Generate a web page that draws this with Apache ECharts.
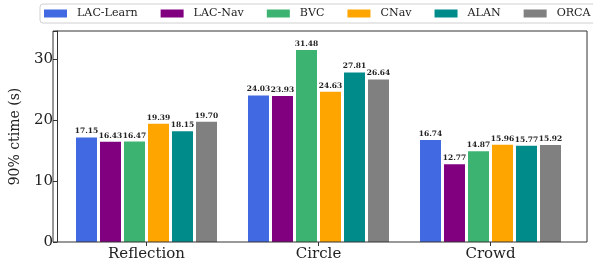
<!DOCTYPE html>
<html><head><meta charset="utf-8">
<script src="https://cdn.jsdelivr.net/npm/echarts@6/dist/echarts.min.js"></script>
<style>html,body{margin:0;padding:0;background:#fff}#c{width:593px;height:266px}</style>
</head><body><div id="c"></div>
<script>
const categories = ['Reflection', 'Circle', 'Crowd'];
const seriesNames = ['LAC-Learn', 'LAC-Nav', 'BVC', 'CNav', 'ALAN', 'ORCA'];
const lacLearn = [17.15, 24.03, 16.74];
const lacNav = [16.43, 23.93, 12.77];
const bvc = [16.47, 31.48, 14.87];
const cnav = [19.39, 24.63, 15.96];
const alan = [18.15, 27.81, 15.77];
const orca = [19.70, 26.64, 15.92];
const yTicks = [0, 10, 20, 30];
const yMax = 34.6;

const colors = ['#4169E1', '#800080', '#3CB371', '#FFA500', '#008B8B', '#808080'];
const allData = [lacLearn, lacNav, bvc, cnav, alan, orca];
const font = 'DejaVu Serif';

const chart = echarts.init(document.getElementById('c'), null, {renderer: 'canvas'});
chart.setOption({
  animation: false,
  backgroundColor: '#fff',
  textStyle: {fontFamily: font},
  legend: {
    data: seriesNames,
    left: 40, top: 4, width: 600,
    itemWidth: 23, itemHeight: 8, itemGap: 23,
    padding: [4, 8, 4, 4],
    borderColor: '#d0d0d0', borderWidth: 1, borderRadius: 3,
    textStyle: {fontFamily: font, fontSize: 11.1, color: '#222', padding: [0, 0, 0, 5]},
    icon: 'rect'
  },
  grid: [
    {left: 53, right: 6, top: 31, bottom: 24},
    {left: 60.5, width: 516, top: 31, bottom: 24}
  ],
  xAxis: [
    {type: 'value', gridIndex: 0, min: 0, max: 1, show: true,
     axisLine: {show: false}, axisTick: {show: false}, axisLabel: {show: false}, splitLine: {show: false}},
    {type: 'category', gridIndex: 1, data: categories,
     axisLine: {show: false},
     axisTick: {show: true, alignWithLabel: true, length: 4, lineStyle: {color: '#333'}},
     axisLabel: {fontFamily: font, fontSize: 15, color: '#222', margin: 5}}
  ],
  yAxis: [
    {type: 'value', gridIndex: 0, min: 0, max: yMax, interval: 10,
     name: '90% ctime (s)', nameLocation: 'middle', nameGap: 35, nameMoveOverlap: false,
     nameTextStyle: {fontFamily: font, fontSize: 14, color: '#222'},
     axisLine: {show: true, lineStyle: {color: '#333'}},
     axisTick: {show: true, length: 4, lineStyle: {color: '#333'}},
     axisLabel: {fontFamily: font, fontSize: 15, color: '#222', margin: 4,
       formatter: v => yTicks.includes(v) ? String(v) : ''},
     splitLine: {show: false}},
    {type: 'value', gridIndex: 1, min: 0, max: yMax, show: false}
  ],
  graphic: [{
    type: 'rect', shape: {x: 53, y: 31, width: 534, height: 211},
    style: {fill: 'none', stroke: '#333', lineWidth: 1}, z: 50, silent: true
  }],
  series: seriesNames.map((n, i) => ({
    name: n, type: 'bar', xAxisIndex: 1, yAxisIndex: 1,
    data: allData[i], barWidth: 21, barGap: '14.3%',
    itemStyle: {color: colors[i]},
    label: {show: true, position: 'top', distance: 2,
      formatter: p => p.value.toFixed(2),
      fontFamily: font, fontSize: 7.5, fontWeight: 'bold', color: '#222'}
  }))
});
</script></body></html>
